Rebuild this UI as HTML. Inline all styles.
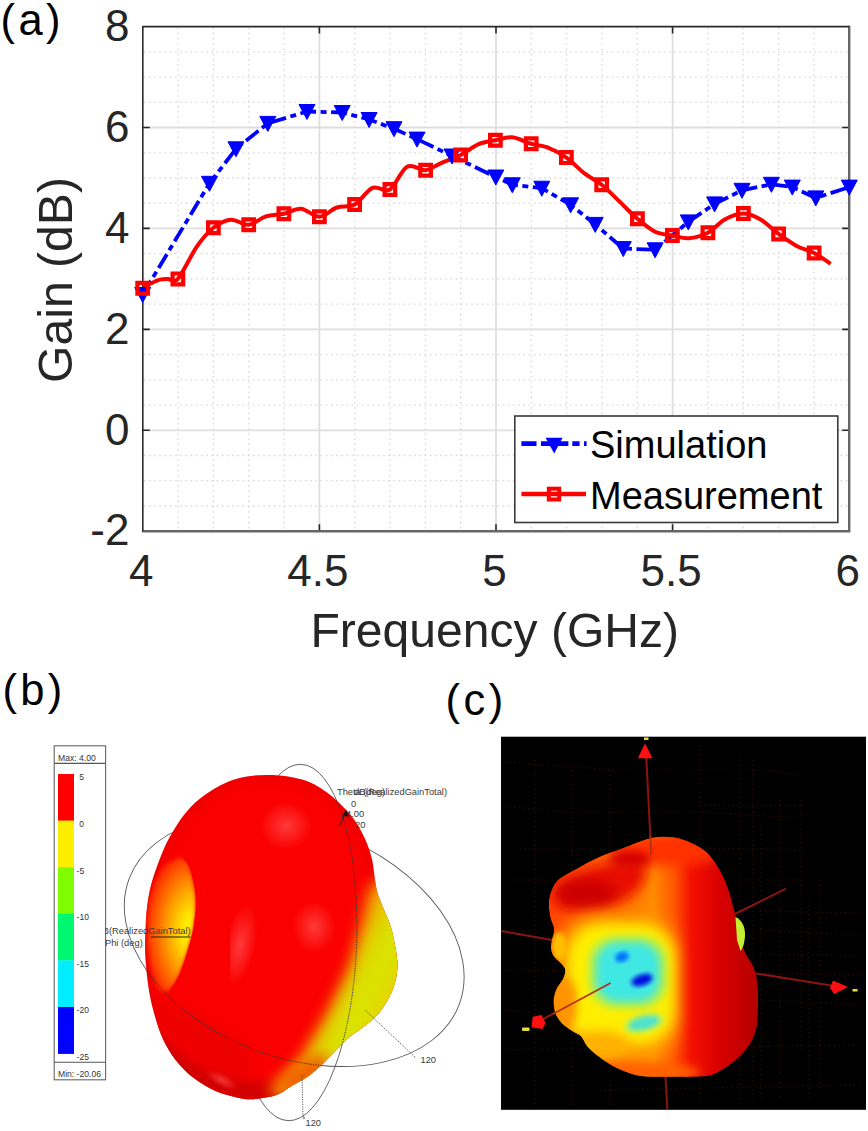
<!DOCTYPE html>
<html><head><meta charset="utf-8"><title>Gain figure</title>
<style>
html,body{margin:0;padding:0;background:#fff;}
body{width:868px;height:1131px;overflow:hidden;}
svg{display:block;font-family:"Liberation Sans",sans-serif;}
</style></head>
<body>
<svg width="868" height="1131" viewBox="0 0 868 1131">
<defs>

<linearGradient id="bLobe" gradientUnits="userSpaceOnUse" x1="315" y1="950" x2="400" y2="990">
 <stop offset="0" stop-color="#ff3800"/>
 <stop offset="0.3" stop-color="#f89000"/>
 <stop offset="0.5" stop-color="#e0d400"/>
 <stop offset="0.7" stop-color="#d8e600"/>
 <stop offset="1" stop-color="#e8d000"/>
</linearGradient>
<radialGradient id="bHole" gradientUnits="userSpaceOnUse" cx="194" cy="932" r="60" fx="194" fy="932" gradientTransform="translate(194 932) scale(0.95 1.6) translate(-194 -932)">
 <stop offset="0" stop-color="#ffff00"/>
 <stop offset="0.2" stop-color="#ffe800"/>
 <stop offset="0.45" stop-color="#ffa400"/>
 <stop offset="0.7" stop-color="#ff5800"/>
 <stop offset="0.88" stop-color="#ff2000"/>
 <stop offset="1" stop-color="#fa0000"/>
</radialGradient>
<radialGradient id="bHi" cx="0.5" cy="0.5" r="0.5">
 <stop offset="0" stop-color="#ff4848" stop-opacity="0.8"/>
 <stop offset="1" stop-color="#ff4848" stop-opacity="0"/>
</radialGradient>
<clipPath id="lclip"><rect x="105" y="900" width="200" height="60"/></clipPath>
<clipPath id="bclip"><path d="M269.0 775.0C280.0 775.1 292.8 777.0 302.0 779.6C311.2 782.2 317.5 786.3 324.0 790.5C330.5 794.7 335.9 799.8 341.0 804.7C346.1 809.6 350.3 814.1 354.4 820.0C358.5 825.9 362.5 833.2 365.4 839.8C368.3 846.4 370.4 852.6 372.0 859.5C373.6 866.4 374.3 875.7 375.2 881.3C376.1 886.9 376.2 888.6 377.5 893.0C378.8 897.4 381.0 902.6 383.0 907.6C385.0 912.6 387.7 917.6 389.5 923.0C391.3 928.4 392.7 932.8 394.0 940.0C395.3 947.2 397.7 957.8 397.5 966.0C397.3 974.2 395.7 981.7 393.0 989.0C390.3 996.3 385.6 1004.2 381.4 1010.0C377.2 1015.8 373.0 1019.1 367.6 1023.7C362.2 1028.3 354.4 1032.9 349.0 1037.5C343.6 1042.1 339.9 1046.7 335.3 1051.3C330.7 1055.9 326.1 1061.0 321.5 1065.2C316.9 1069.4 312.6 1073.2 307.6 1076.7C302.6 1080.2 296.7 1083.0 291.5 1086.0C286.3 1089.0 282.9 1092.8 276.4 1095.0C269.9 1097.2 258.9 1098.8 252.3 1099.2C245.7 1099.6 243.2 1098.9 237.0 1097.5C230.8 1096.1 222.3 1094.1 215.0 1090.8C207.7 1087.5 199.8 1082.7 193.2 1077.6C186.6 1072.5 180.8 1066.6 175.7 1060.0C170.6 1053.4 166.2 1046.0 162.5 1038.0C158.8 1030.0 156.2 1020.7 153.8 1012.0C151.4 1003.3 149.7 995.6 148.3 985.7C146.9 975.8 145.6 962.4 145.2 952.8C144.8 943.2 145.3 935.8 145.6 928.3C145.9 920.8 146.1 914.9 147.0 907.6C147.9 900.4 149.0 892.7 151.1 884.8C153.2 876.9 156.3 868.0 159.4 860.0C162.5 852.0 165.3 845.0 169.8 837.0C174.3 829.0 180.2 819.2 186.4 812.0C192.6 804.8 198.7 799.0 207.0 793.5C215.3 788.0 225.7 782.1 236.0 779.0C246.3 775.9 258.0 774.9 269.0 775.0Z"/></clipPath>
<filter id="blur2" x="-20%" y="-20%" width="140%" height="140%"><feGaussianBlur stdDeviation="2"/></filter>
<filter id="blur3" x="-30%" y="-30%" width="160%" height="160%"><feGaussianBlur stdDeviation="3"/></filter>
<filter id="blur4" x="-30%" y="-30%" width="160%" height="160%"><feGaussianBlur stdDeviation="4"/></filter>
<filter id="blur5" x="-30%" y="-30%" width="160%" height="160%"><feGaussianBlur stdDeviation="5.5"/></filter>
<filter id="blur7" x="-30%" y="-30%" width="160%" height="160%"><feGaussianBlur stdDeviation="7"/></filter>


<linearGradient id="cBase" gradientUnits="userSpaceOnUse" x1="548" y1="0" x2="758" y2="0">
 <stop offset="0" stop-color="#ff4400"/>
 <stop offset="0.35" stop-color="#ff6c00"/>
 <stop offset="0.5" stop-color="#ff8c00"/>
 <stop offset="0.6" stop-color="#ff5800"/>
 <stop offset="0.68" stop-color="#f41000"/>
 <stop offset="0.82" stop-color="#d80000"/>
 <stop offset="1" stop-color="#b40000"/>
</linearGradient>
<clipPath id="cclip"><path d="M649.8 838.4C658.2 836.5 666.0 836.5 672.9 837.3C679.8 838.1 685.6 840.4 691.3 843.0C697.0 845.6 702.3 848.2 707.0 852.7C711.7 857.2 716.2 863.7 719.7 869.7C723.2 875.7 725.9 882.4 728.2 888.8C730.5 895.2 732.2 903.2 733.5 907.9C734.8 912.6 734.9 912.5 736.0 917.0C737.1 921.5 738.5 929.1 740.0 935.0C741.5 940.9 742.9 947.1 745.2 952.5C747.5 957.9 751.7 962.0 753.7 967.3C755.8 972.6 756.8 977.2 757.5 984.3C758.2 991.4 758.2 1001.9 757.9 1009.7C757.6 1017.5 757.6 1024.6 755.8 1031.0C754.0 1037.4 751.2 1042.6 747.3 1047.9C743.4 1053.2 737.7 1058.5 732.4 1062.8C727.1 1067.0 720.8 1071.1 715.5 1073.4C710.2 1075.7 708.5 1076.0 700.6 1076.6C692.7 1077.2 677.4 1076.8 668.2 1076.8C659.0 1076.8 651.7 1077.1 645.2 1076.4C638.7 1075.8 634.5 1074.6 629.1 1072.9C623.7 1071.2 617.9 1068.7 612.9 1066.0C607.9 1063.3 603.2 1060.0 599.1 1056.8C595.0 1053.6 591.0 1050.4 588.0 1047.0C585.0 1043.6 583.5 1038.8 581.1 1036.2C578.7 1033.7 576.6 1033.7 573.6 1031.7C570.6 1029.7 565.9 1027.0 563.0 1024.2C560.1 1021.5 557.8 1018.2 556.3 1015.2C554.8 1012.2 554.4 1009.2 554.0 1006.2C553.6 1003.2 553.5 1000.2 554.0 997.2C554.5 994.2 555.5 991.2 557.0 988.2C558.5 985.2 561.6 982.2 563.0 979.2C564.4 976.2 565.5 972.6 565.3 970.1C565.1 967.6 563.5 966.4 561.6 964.1C559.7 961.9 555.8 959.1 554.0 956.6C552.2 954.1 551.4 951.9 551.0 949.1C550.6 946.4 551.3 943.4 551.8 940.1C552.3 936.9 554.2 933.4 554.0 929.6C553.8 925.9 551.2 921.9 550.3 917.6C549.4 913.3 548.7 908.3 548.8 904.0C548.9 899.7 549.5 896.0 551.0 892.0C552.5 888.0 553.8 883.8 558.0 880.0C562.2 876.2 569.2 872.9 576.1 869.0C583.0 865.1 591.4 860.3 599.1 856.9C606.8 853.5 613.8 851.6 622.2 848.5C630.7 845.4 641.3 840.3 649.8 838.4Z"/></clipPath>
<filter id="blur6" x="-50%" y="-50%" width="200%" height="200%"><feGaussianBlur stdDeviation="6"/></filter>
<filter id="blur8" x="-50%" y="-50%" width="200%" height="200%"><feGaussianBlur stdDeviation="8"/></filter>
<filter id="blur10" x="-50%" y="-50%" width="200%" height="200%"><feGaussianBlur stdDeviation="10"/></filter>

<clipPath id="axclip"><rect x="142.8" y="26.6" width="706.4000000000001" height="504.6"/></clipPath>
</defs>
<path d="M178.1 27.6V530.2M213.4 27.6V530.2M248.8 27.6V530.2M284.1 27.6V530.2M354.7 27.6V530.2M390.0 27.6V530.2M425.4 27.6V530.2M460.7 27.6V530.2M531.3 27.6V530.2M566.6 27.6V530.2M602.0 27.6V530.2M637.3 27.6V530.2M707.9 27.6V530.2M743.2 27.6V530.2M778.6 27.6V530.2M813.9 27.6V530.2M143.8 51.8H848.2M143.8 77.1H848.2M143.8 102.3H848.2M143.8 152.8H848.2M143.8 178.0H848.2M143.8 203.2H848.2M143.8 253.7H848.2M143.8 278.9H848.2M143.8 304.1H848.2M143.8 354.6H848.2M143.8 379.8H848.2M143.8 405.1H848.2M143.8 455.5H848.2M143.8 480.7H848.2M143.8 506.0H848.2" stroke="#d8d8d8" stroke-width="1.3" stroke-dasharray="1.6 3.6" fill="none"/>
<path d="M319.4 26.6V531.2M496.0 26.6V531.2M672.6 26.6V531.2M142.8 127.5H849.2M142.8 228.4H849.2M142.8 329.4H849.2M142.8 430.3H849.2" stroke="#dedede" stroke-width="1.8" fill="none"/>
<path d="M319.4 531.2v-7M319.4 26.6v7M496.0 531.2v-7M496.0 26.6v7M672.6 531.2v-7M672.6 26.6v7M142.8 127.5h7M849.2 127.5h-7M142.8 228.4h7M849.2 228.4h-7M142.8 329.4h7M849.2 329.4h-7M142.8 430.3h7M849.2 430.3h-7" stroke="#262626" stroke-width="1.6" fill="none"/>
<path d="M849.2 25.8V532.4M142.0 531.2H850.4" fill="none" stroke="#666" stroke-width="2.4"/>
<path d="M142.8 531.2V26.6H849.2" fill="none" stroke="#2a2a2a" stroke-width="1.6"/>
<g font-size="44" fill="#262626"><text x="129.4" y="41.2" text-anchor="end">8</text><text x="129.4" y="142.1" text-anchor="end">6</text><text x="129.4" y="243.0" text-anchor="end">4</text><text x="129.4" y="344.0" text-anchor="end">2</text><text x="129.4" y="444.9" text-anchor="end">0</text><text x="129.4" y="545.0" text-anchor="end">-2</text><text x="141.3" y="586.4" text-anchor="middle">4</text><text x="317.9" y="586.4" text-anchor="middle">4.5</text><text x="494.5" y="586.4" text-anchor="middle">5</text><text x="671.1" y="586.4" text-anchor="middle">5.5</text><text x="847.7" y="586.4" text-anchor="middle">6</text></g>
<text x="310.5" y="646.5" font-size="48" fill="#262626" textLength="368.5" lengthAdjust="spacingAndGlyphs">Frequency (GHz)</text>
<text transform="translate(71.5 383) rotate(-90)" font-size="49" fill="#262626" textLength="206" lengthAdjust="spacingAndGlyphs">Gain (dB)</text>
<g clip-path="url(#axclip)">
<path d="M142.7 294.5L209.5 183.3L236.0 148.8L267.8 123.4L307.0 111.5L342.2 112.5L369.1 119.5L394.0 128.7L417.0 139.1L452.0 156.0L495.8 177.0L512.3 184.8L541.8 188.2L570.6 204.8L595.2 224.4L623.3 248.6L655.1 249.8L688.3 221.9L714.6 203.9L742.0 190.3L771.4 184.3L792.3 187.1L815.8 197.9L849.3 187.1" stroke="#0000ff" stroke-width="3.8" fill="none" stroke-dasharray="16 4.5 6 4.5" stroke-linejoin="round"/>
<path d="M142.7 288.2C144.1 287.4 148.1 284.7 151.0 283.3C153.9 281.9 157.2 280.3 160.0 279.6C162.8 278.9 165.0 279.0 168.0 278.9C171.0 278.8 173.1 284.3 177.9 278.9C182.7 273.5 190.9 255.2 196.8 246.7C202.7 238.2 207.8 232.3 213.4 227.8C219.1 223.3 224.8 220.2 230.7 219.7C236.6 219.2 242.8 225.4 248.7 224.8C254.6 224.2 260.0 218.2 265.9 216.3C271.8 214.5 278.0 215.0 283.9 213.7C289.8 212.4 295.1 208.2 301.0 208.7C306.9 209.2 313.4 216.9 319.4 216.7C325.4 216.5 331.0 209.5 336.9 207.5C342.8 205.5 348.7 207.8 354.6 204.5C360.6 201.2 366.7 190.4 372.6 187.9C378.5 185.4 384.1 193.0 389.9 189.5C395.6 186.0 401.2 169.9 407.1 166.7C413.1 163.5 420.0 170.8 425.6 170.2C431.2 169.6 434.8 165.8 440.6 163.3C446.4 160.8 454.3 158.2 460.6 155.0C466.9 151.8 472.8 146.6 478.6 144.1C484.4 141.6 489.8 141.3 495.4 140.2C501.0 139.1 506.3 136.7 512.3 137.3C518.3 137.9 525.5 142.2 531.2 143.8C537.0 145.5 540.9 144.9 546.8 147.2C552.7 149.5 560.1 153.2 566.4 157.6C572.7 162.0 578.9 169.2 584.8 173.7C590.7 178.2 595.9 180.2 601.7 184.8C607.5 189.4 613.5 195.8 619.4 201.4C625.3 207.1 631.4 213.6 637.4 218.7C643.4 223.8 649.3 229.0 655.1 231.8C660.9 234.6 666.8 234.4 672.4 235.5C678.0 236.6 682.9 238.7 688.8 238.2C694.7 237.7 701.9 235.8 707.9 232.7C713.9 229.6 718.8 222.7 724.7 219.5C730.6 216.3 737.4 213.5 743.4 213.5C749.4 213.5 754.7 216.1 760.6 219.5C766.5 222.9 772.6 229.5 778.6 233.9C784.6 238.3 790.7 242.7 796.6 245.9C802.5 249.1 808.4 250.0 814.1 253.0C819.8 256.0 827.9 262.0 830.6 263.8" stroke="#ff0000" stroke-width="4" fill="none" stroke-linejoin="round"/>
</g>
<path d="M134.7 287.5H150.7L142.7 302.5ZM201.5 176.3H217.5L209.5 191.3ZM228.0 141.8H244.0L236.0 156.8ZM259.8 116.4H275.8L267.8 131.4ZM299.0 104.5H315.0L307.0 119.5ZM334.2 105.5H350.2L342.2 120.5ZM361.1 112.5H377.1L369.1 127.5ZM386.0 121.7H402.0L394.0 136.7ZM409.0 132.1H425.0L417.0 147.1ZM444.0 149.0H460.0L452.0 164.0ZM487.8 170.0H503.8L495.8 185.0ZM504.3 177.8H520.3L512.3 192.8ZM533.8 181.2H549.8L541.8 196.2ZM562.6 197.8H578.6L570.6 212.8ZM587.2 217.4H603.2L595.2 232.4ZM615.3 241.6H631.3L623.3 256.6ZM647.1 242.8H663.1L655.1 257.8ZM680.3 214.9H696.3L688.3 229.9ZM706.6 196.9H722.6L714.6 211.9ZM734.0 183.3H750.0L742.0 198.3ZM763.4 177.3H779.4L771.4 192.3ZM784.3 180.1H800.3L792.3 195.1ZM807.8 190.9H823.8L815.8 205.9ZM841.3 180.1H857.3L849.3 195.1Z" fill="#0000ff" stroke="#0000ff" stroke-width="1" stroke-linejoin="round"/>
<path d="M137.4 282.8h10.6v10.8h-10.6ZM172.6 273.5h10.6v10.8h-10.6ZM208.1 222.4h10.6v10.8h-10.6ZM243.4 219.4h10.6v10.8h-10.6ZM278.6 208.3h10.6v10.8h-10.6ZM314.1 211.3h10.6v10.8h-10.6ZM349.3 199.1h10.6v10.8h-10.6ZM384.6 184.1h10.6v10.8h-10.6ZM420.3 164.8h10.6v10.8h-10.6ZM455.3 149.6h10.6v10.8h-10.6ZM490.1 134.8h10.6v10.8h-10.6ZM525.9 138.4h10.6v10.8h-10.6ZM561.1 152.2h10.6v10.8h-10.6ZM596.4 179.4h10.6v10.8h-10.6ZM632.1 213.3h10.6v10.8h-10.6ZM667.1 230.1h10.6v10.8h-10.6ZM702.6 227.3h10.6v10.8h-10.6ZM738.1 208.1h10.6v10.8h-10.6ZM773.3 228.5h10.6v10.8h-10.6ZM808.8 247.6h10.6v10.8h-10.6Z" fill="none" stroke="#ff0000" stroke-width="4.2"/>
<rect x="514.8" y="416" width="323" height="106.5" fill="#fff" stroke="#3a3a3a" stroke-width="1.6"/>
<path d="M521.4 443.6H536.5M541 443.6H568.4M572.3 443.6H579.6M584 443.6H586.6" stroke="#0000ff" stroke-width="4.6" fill="none"/>
<path d="M545.6 437.8H562.6L554.2 453.6Z" fill="#0000ff"/>
<path d="M521.4 494H586" stroke="#ff0000" stroke-width="4.4" fill="none"/>
<rect x="548.8" y="488.7" width="10.4" height="10.8" fill="none" stroke="#ff0000" stroke-width="4"/>
<g font-size="38" fill="#000"><text x="590" y="458.2">Simulation</text><text x="590" y="508.7">Measurement</text></g>
<g font-size="43.5" fill="#000" letter-spacing="3.4">
<text x="0.6" y="34.8">(a)</text>
<text x="2.4" y="704.6">(b)</text>
<text x="445.6" y="715.3">(c)</text>
</g>
<rect x="54.2" y="745.8" width="51.4" height="334" fill="#fff" stroke="#666" stroke-width="1.1"/>
<path d="M54.2 763.4H105.6M54.2 1062.3H105.6" stroke="#555" stroke-width="1.1"/>
<rect x="58" y="774.0" width="16" height="46.9" fill="#ff0000"/>
<rect x="58" y="820.6" width="16" height="46.9" fill="#ffee00"/>
<rect x="58" y="867.2" width="16" height="46.9" fill="#80fc00"/>
<rect x="58" y="913.8" width="16" height="46.9" fill="#00f870"/>
<rect x="58" y="960.4" width="16" height="46.9" fill="#00eeff"/>
<rect x="58" y="1007.0" width="16" height="46.9" fill="#0000ff"/>
<text x="79.2" y="780.3" font-size="8.5" fill="#333">5</text>
<text x="79.2" y="826.9" font-size="8.5" fill="#333">0</text>
<text x="76.6" y="873.5" font-size="8.5" fill="#333">-5</text>
<text x="76.6" y="920.1" font-size="8.5" fill="#333">-10</text>
<text x="76.6" y="966.7" font-size="8.5" fill="#333">-15</text>
<text x="76.6" y="1013.3" font-size="8.5" fill="#333">-20</text>
<text x="76.6" y="1059.9" font-size="8.5" fill="#333">-25</text>
<text x="58" y="760.5" font-size="8.6" fill="#333">Max: 4.00</text>
<text x="58" y="1076.7" font-size="8.6" fill="#333">Min: -20.06</text>
<g fill="none" stroke="#555" stroke-width="0.9">
<ellipse cx="294.2" cy="941.5" rx="176.6" ry="115.4" transform="rotate(21.1 294.2 941.5)"/>
<ellipse cx="294.6" cy="942.5" rx="62.0" ry="178.3" transform="rotate(2.1 294.6 942.5)"/>
</g>
<g>
<path d="M269.0 775.0C280.0 775.1 292.8 777.0 302.0 779.6C311.2 782.2 317.5 786.3 324.0 790.5C330.5 794.7 335.9 799.8 341.0 804.7C346.1 809.6 350.3 814.1 354.4 820.0C358.5 825.9 362.5 833.2 365.4 839.8C368.3 846.4 370.4 852.6 372.0 859.5C373.6 866.4 374.3 875.7 375.2 881.3C376.1 886.9 376.2 888.6 377.5 893.0C378.8 897.4 381.0 902.6 383.0 907.6C385.0 912.6 387.7 917.6 389.5 923.0C391.3 928.4 392.7 932.8 394.0 940.0C395.3 947.2 397.7 957.8 397.5 966.0C397.3 974.2 395.7 981.7 393.0 989.0C390.3 996.3 385.6 1004.2 381.4 1010.0C377.2 1015.8 373.0 1019.1 367.6 1023.7C362.2 1028.3 354.4 1032.9 349.0 1037.5C343.6 1042.1 339.9 1046.7 335.3 1051.3C330.7 1055.9 326.1 1061.0 321.5 1065.2C316.9 1069.4 312.6 1073.2 307.6 1076.7C302.6 1080.2 296.7 1083.0 291.5 1086.0C286.3 1089.0 282.9 1092.8 276.4 1095.0C269.9 1097.2 258.9 1098.8 252.3 1099.2C245.7 1099.6 243.2 1098.9 237.0 1097.5C230.8 1096.1 222.3 1094.1 215.0 1090.8C207.7 1087.5 199.8 1082.7 193.2 1077.6C186.6 1072.5 180.8 1066.6 175.7 1060.0C170.6 1053.4 166.2 1046.0 162.5 1038.0C158.8 1030.0 156.2 1020.7 153.8 1012.0C151.4 1003.3 149.7 995.6 148.3 985.7C146.9 975.8 145.6 962.4 145.2 952.8C144.8 943.2 145.3 935.8 145.6 928.3C145.9 920.8 146.1 914.9 147.0 907.6C147.9 900.4 149.0 892.7 151.1 884.8C153.2 876.9 156.3 868.0 159.4 860.0C162.5 852.0 165.3 845.0 169.8 837.0C174.3 829.0 180.2 819.2 186.4 812.0C192.6 804.8 198.7 799.0 207.0 793.5C215.3 788.0 225.7 782.1 236.0 779.0C246.3 775.9 258.0 774.9 269.0 775.0Z" fill="#fa0000"/>
<g clip-path="url(#bclip)">
<path d="M269.0 775.0C280.0 775.1 292.8 777.0 302.0 779.6C311.2 782.2 317.5 786.3 324.0 790.5C330.5 794.7 335.9 799.8 341.0 804.7C346.1 809.6 350.3 814.1 354.4 820.0C358.5 825.9 362.5 833.2 365.4 839.8C368.3 846.4 370.4 852.6 372.0 859.5C373.6 866.4 374.3 875.7 375.2 881.3C376.1 886.9 376.2 888.6 377.5 893.0C378.8 897.4 381.0 902.6 383.0 907.6C385.0 912.6 387.7 917.6 389.5 923.0C391.3 928.4 392.7 932.8 394.0 940.0C395.3 947.2 397.7 957.8 397.5 966.0C397.3 974.2 395.7 981.7 393.0 989.0C390.3 996.3 385.6 1004.2 381.4 1010.0C377.2 1015.8 373.0 1019.1 367.6 1023.7C362.2 1028.3 354.4 1032.9 349.0 1037.5C343.6 1042.1 339.9 1046.7 335.3 1051.3C330.7 1055.9 326.1 1061.0 321.5 1065.2C316.9 1069.4 312.6 1073.2 307.6 1076.7C302.6 1080.2 296.7 1083.0 291.5 1086.0C286.3 1089.0 282.9 1092.8 276.4 1095.0C269.9 1097.2 258.9 1098.8 252.3 1099.2C245.7 1099.6 243.2 1098.9 237.0 1097.5C230.8 1096.1 222.3 1094.1 215.0 1090.8C207.7 1087.5 199.8 1082.7 193.2 1077.6C186.6 1072.5 180.8 1066.6 175.7 1060.0C170.6 1053.4 166.2 1046.0 162.5 1038.0C158.8 1030.0 156.2 1020.7 153.8 1012.0C151.4 1003.3 149.7 995.6 148.3 985.7C146.9 975.8 145.6 962.4 145.2 952.8C144.8 943.2 145.3 935.8 145.6 928.3C145.9 920.8 146.1 914.9 147.0 907.6C147.9 900.4 149.0 892.7 151.1 884.8C153.2 876.9 156.3 868.0 159.4 860.0C162.5 852.0 165.3 845.0 169.8 837.0C174.3 829.0 180.2 819.2 186.4 812.0C192.6 804.8 198.7 799.0 207.0 793.5C215.3 788.0 225.7 782.1 236.0 779.0C246.3 775.9 258.0 774.9 269.0 775.0Z" fill="none" stroke="#e00000" stroke-width="10" filter="url(#blur5)" opacity="0.5"/>
<path d="M150 1040C190 1085 240 1100 300 1090" fill="none" stroke="#d00000" stroke-width="22" filter="url(#blur5)"/>
<ellipse cx="286" cy="826" rx="26" ry="24" fill="url(#bHi)"/>
<ellipse cx="314" cy="927" rx="22" ry="26" fill="url(#bHi)"/>
<ellipse cx="240" cy="945" rx="16" ry="42" fill="url(#bHi)" transform="rotate(12 240 945)"/>
<ellipse cx="222" cy="1080" rx="18" ry="7" fill="url(#bHi)" transform="rotate(28 222 1080)"/>
<path d="M372.0 884.0C366.2 887.6 364.3 911.8 362.0 920.0C359.7 928.2 352.5 956.8 349.0 966.0C345.5 975.2 331.9 1002.8 327.0 1012.0C322.1 1021.2 305.5 1049.7 300.0 1058.0C294.5 1066.3 260.0 1090.8 272.0 1095.0C284.0 1099.2 405.2 1121.1 420.0 1100.0C434.8 1078.9 424.8 905.6 420.0 884.0C415.2 862.4 377.8 880.4 372.0 884.0Z" fill="url(#bLobe)" filter="url(#blur7)"/>
<ellipse cx="305" cy="1075" rx="30" ry="13" fill="#f06000" filter="url(#blur7)" transform="rotate(-35 305 1075)"/>
<path d="M150 1000C170 1040 200 1070 240 1080C260 1070 250 1040 220 1030C190 1020 160 1000 150 1000Z" fill="#e00000" opacity="0.5" filter="url(#blur7)"/>
<path d="M183.5 859.0C186.2 860.5 188.0 862.8 190.0 869.0C192.0 875.2 194.9 887.2 195.5 896.5C196.1 905.8 195.2 915.6 193.8 925.0C192.4 934.4 189.3 944.7 186.8 953.0C184.3 961.3 181.7 969.0 179.0 975.0C176.3 981.0 174.0 986.8 170.5 989.0C167.0 991.2 161.8 994.5 158.0 988.0C154.2 981.5 149.5 963.8 148.0 950.0C146.5 936.2 147.0 918.0 149.0 905.0C151.0 892.0 155.8 879.5 160.0 872.0C164.2 864.5 170.1 862.2 174.0 860.0C177.9 857.8 180.8 857.5 183.5 859.0Z" fill="url(#bHole)" filter="url(#blur2)"/>
<path d="M183.5 859.0C184.6 860.7 188.0 862.8 190.0 869.0C192.0 875.2 194.9 887.2 195.5 896.5C196.1 905.8 195.2 915.6 193.8 925.0C192.4 934.4 189.3 944.7 186.8 953.0C184.3 961.3 181.7 969.0 179.0 975.0C176.3 981.0 171.9 986.7 170.5 989.0L168 1000L230 1000L230 850L178 850Z" fill="#fa0000"/>
</g></g>
<g fill="none" stroke="#333" stroke-width="1" stroke-dasharray="1.2 1.2" clip-path="url(#bclip)">
<path d="M459.0 1005.1L457.2 1009.3L455.2 1013.3L452.9 1017.3L450.4 1021.1L447.7 1024.9L444.7 1028.5L441.5 1031.9L438.1 1035.2L434.4 1038.4L430.5 1041.4L426.4 1044.3L422.1 1047.0L417.7 1049.6L413.0 1052.0L408.1 1054.2L403.1 1056.2L397.9 1058.1L392.5 1059.8L387.0 1061.3L381.3 1062.6L375.5 1063.7L369.6 1064.7L363.6 1065.4L357.4 1066.0L351.2 1066.3L344.9 1066.5L338.5 1066.5L332.0 1066.3L325.5 1065.9L318.9 1065.3L312.3 1064.5L305.6 1063.5L298.9 1062.4L292.3 1061.0L285.6 1059.5L278.9 1057.8L272.3 1055.9L265.7 1053.8L259.2 1051.6L252.7 1049.2L246.2 1046.6L239.9 1043.8L233.6 1040.9L227.4 1037.9L221.3 1034.7L215.3 1031.3L209.5 1027.9L203.8 1024.2L198.2 1020.5L192.8 1016.6L187.5 1012.7L182.4 1008.6L177.4 1004.4L172.7 1000.1L168.1 995.7L163.7 991.2L159.6 986.7L155.6 982.1L151.9 977.4L148.3 972.7L145.0 967.9L141.9 963.1L139.1 958.2L136.5 953.3L134.1 948.5L132.0 943.5L130.1 938.6L128.5 933.7L127.2 928.8L126.1 924.0L125.2 919.1L124.7 914.3L124.3 909.5L124.3 904.8L124.5 900.2L125.0 895.5L125.7 891.0L126.7 886.6L127.9 882.2L129.4 877.9"/>
<path d="M301.1 764.3L303.6 764.5L306.0 765.0L308.4 765.8L310.7 766.9L313.1 768.2L315.4 769.8L317.7 771.6L320.0 773.7L322.2 776.1L324.3 778.8L326.5 781.6L328.5 784.8L330.6 788.1L332.5 791.8L334.5 795.6L336.3 799.7L338.1 804.0L339.8 808.5L341.5 813.2L343.0 818.1L344.5 823.2L346.0 828.5L347.3 834.0L348.6 839.6L349.7 845.4L350.8 851.3L351.9 857.4L352.8 863.6L353.6 870.0L354.3 876.4L355.0 883.0L355.5 889.6L356.0 896.3L356.4 903.1L356.6 910.0L356.8 916.9L356.9 923.8L356.9 930.8L356.8 937.8L356.6 944.8L356.3 951.8L355.9 958.7L355.4 965.7L354.8 972.6L354.1 979.5L353.3 986.3L352.5 993.1L351.5 999.7L350.5 1006.3L349.3 1012.8L348.1 1019.2L346.8 1025.4L345.5 1031.5L344.0 1037.5L342.5 1043.4L340.9 1049.1L339.2 1054.6L337.5 1059.9L335.7 1065.1L333.8 1070.1L331.9 1074.9L329.9 1079.5L327.8 1083.8L325.7 1088.0L323.6 1091.9L321.4 1095.6L319.2 1099.1L316.9 1102.3L314.6 1105.3L312.3 1108.0L309.9 1110.5L307.5 1112.7L305.1 1114.6L302.7 1116.3L300.3 1117.7L297.8 1118.8L295.4 1119.7L292.9 1120.3L290.5 1120.6L288.1 1120.7"/>
</g>
<path d="M365 1010L416 1058M302 1075L303 1118" fill="none" stroke="#444" stroke-width="0.9" stroke-dasharray="1.2 1.2"/>
<path d="M303 1118h2" stroke="#333" stroke-width="1"/>
<g font-size="9.3" fill="#3a3a3a">
<text x="337" y="794.5">Theta (deg)</text>
<text x="354" y="794.5">dB(RealizedGainTotal)</text>
<text x="351" y="807">0</text>
<text x="346" y="816.5">4.00</text>
<text x="355" y="828">20</text>
<text x="420.5" y="1062.5">120</text>
<text x="305.5" y="1126">120</text>
<text x="190.6" y="934" text-anchor="end" clip-path="url(#lclip)">dB(RealizedGainTotal)</text>
<text x="105" y="945.5">Phi (deg)</text>
</g>
<path d="M151 937H190.5" stroke="#222" stroke-width="1.2"/>
<path d="M345.8 809.5L349 816.5L342.6 816Z" fill="#111"/><path d="M344.5 815L339.5 826" stroke="#222" stroke-width="1" fill="none"/>
<rect x="501" y="736.7" width="365" height="373.1" fill="#000"/>
<g fill="none" stroke="#4a120c" stroke-width="1.2" stroke-dasharray="1.3 3.4" opacity="0.7">
<path d="M505 762L615 770L760 770L800 775M505 806L560 812L700 812L800 818M505 880L800 880M505 970L860 975M505 1050L860 1045M535 760V1105M572 770V1105M610 770V1105M700 745V1105M740 750V1105M780 800V1100M820 880V1090M760 930L860 935M760 1000L860 1005M753 760V1100M761 820V1100M801 800V1050M809 900V1100M700 805L800 806M700 848L800 850M760 911L860 913M760 954L860 956M505 930L540 932M505 1010L530 1012M600 1090L860 1085M520 849L700 850"/>
</g>
<g stroke="#8a1410" stroke-width="2" fill="none">
<path d="M646.3 758L650.5 840M501 931L552 940M786 888.6L735 914M756 973.4L834 986M665.3 1075L667.4 1110M541.5 1020L611 982"/>
</g>
<g fill="#ff1010">
<path d="M645 743.5L652.6 758.3H637.8Z"/>
<path d="M848 987L833 980.5L830 988L834 994Z"/>
<path d="M532.8 1016.8L541.5 1015L545.6 1023.2L542.4 1029.1L531.5 1027.3Z"/>
</g>
<g fill="#e0e040"><rect x="644" y="737.5" width="4.5" height="2.5"/><rect x="852.5" y="989" width="5" height="2.5"/><rect x="522" y="1027.5" width="7.5" height="3.4" rx="1"/></g>
<g clip-path="url(#cclip)">
<path d="M649.8 838.4C658.2 836.5 666.0 836.5 672.9 837.3C679.8 838.1 685.6 840.4 691.3 843.0C697.0 845.6 702.3 848.2 707.0 852.7C711.7 857.2 716.2 863.7 719.7 869.7C723.2 875.7 725.9 882.4 728.2 888.8C730.5 895.2 732.2 903.2 733.5 907.9C734.8 912.6 734.9 912.5 736.0 917.0C737.1 921.5 738.5 929.1 740.0 935.0C741.5 940.9 742.9 947.1 745.2 952.5C747.5 957.9 751.7 962.0 753.7 967.3C755.8 972.6 756.8 977.2 757.5 984.3C758.2 991.4 758.2 1001.9 757.9 1009.7C757.6 1017.5 757.6 1024.6 755.8 1031.0C754.0 1037.4 751.2 1042.6 747.3 1047.9C743.4 1053.2 737.7 1058.5 732.4 1062.8C727.1 1067.0 720.8 1071.1 715.5 1073.4C710.2 1075.7 708.5 1076.0 700.6 1076.6C692.7 1077.2 677.4 1076.8 668.2 1076.8C659.0 1076.8 651.7 1077.1 645.2 1076.4C638.7 1075.8 634.5 1074.6 629.1 1072.9C623.7 1071.2 617.9 1068.7 612.9 1066.0C607.9 1063.3 603.2 1060.0 599.1 1056.8C595.0 1053.6 591.0 1050.4 588.0 1047.0C585.0 1043.6 583.5 1038.8 581.1 1036.2C578.7 1033.7 576.6 1033.7 573.6 1031.7C570.6 1029.7 565.9 1027.0 563.0 1024.2C560.1 1021.5 557.8 1018.2 556.3 1015.2C554.8 1012.2 554.4 1009.2 554.0 1006.2C553.6 1003.2 553.5 1000.2 554.0 997.2C554.5 994.2 555.5 991.2 557.0 988.2C558.5 985.2 561.6 982.2 563.0 979.2C564.4 976.2 565.5 972.6 565.3 970.1C565.1 967.6 563.5 966.4 561.6 964.1C559.7 961.9 555.8 959.1 554.0 956.6C552.2 954.1 551.4 951.9 551.0 949.1C550.6 946.4 551.3 943.4 551.8 940.1C552.3 936.9 554.2 933.4 554.0 929.6C553.8 925.9 551.2 921.9 550.3 917.6C549.4 913.3 548.7 908.3 548.8 904.0C548.9 899.7 549.5 896.0 551.0 892.0C552.5 888.0 553.8 883.8 558.0 880.0C562.2 876.2 569.2 872.9 576.1 869.0C583.0 865.1 591.4 860.3 599.1 856.9C606.8 853.5 613.8 851.6 622.2 848.5C630.7 845.4 641.3 840.3 649.8 838.4Z" fill="url(#cBase)"/>
<ellipse cx="668" cy="850" rx="58" ry="16" fill="#ff3000" filter="url(#blur6)"/>
<path d="M556 885C575 872 610 858 640 860C650 866 648 880 636 892C620 906 590 912 566 910C552 905 548 895 556 885Z" fill="#e81000" filter="url(#blur6)"/>
<ellipse cx="586" cy="893" rx="30" ry="14" fill="#cc0000" filter="url(#blur6)"/>
<ellipse cx="630" cy="859" rx="20" ry="8" fill="#d40000" filter="url(#blur4)"/>
<rect x="556" y="915" width="122" height="145" rx="40" fill="#ffa000" filter="url(#blur8)"/>
<rect x="568" y="924" width="106" height="120" rx="34" fill="#ffee00" filter="url(#blur6)"/>
<ellipse cx="559" cy="946" rx="7" ry="14" fill="#ffc000" filter="url(#blur2)"/>
<ellipse cx="564" cy="1003" rx="13" ry="26" fill="#ff9400" filter="url(#blur4)"/>
<ellipse cx="600" cy="1045" rx="30" ry="14" fill="#ffb000" filter="url(#blur6)"/>
<rect x="589" y="936" width="78" height="72" rx="26" fill="#b0f050" filter="url(#blur4)"/>
<rect x="596" y="942" width="64" height="60" rx="22" fill="#40e8e4" filter="url(#blur4)"/>
<ellipse cx="644" cy="1023" rx="20" ry="9" fill="#a8f070" filter="url(#blur3)" transform="rotate(-14 644 1023)"/>
<ellipse cx="644" cy="1023" rx="15" ry="6" fill="#50e2cc" filter="url(#blur2)" transform="rotate(-14 644 1023)"/>
<ellipse cx="622" cy="957" rx="7" ry="5" fill="#0070ff" filter="url(#blur2)" transform="rotate(-20 622 957)"/>
<ellipse cx="642" cy="980" rx="11" ry="5.5" fill="#0010e0" filter="url(#blur2)" transform="rotate(-18 642 980)"/>
<ellipse cx="640" cy="1072" rx="60" ry="9" fill="#ff6000" filter="url(#blur4)"/>
</g>
<path d="M735.5 917C742 920 745 927 745 934C745 942 743 948 740.5 951L737 940Z" fill="#c4ec30"/>
<path d="M650.5 836L651 855M610.6 983L553 1014" stroke="#b03010" stroke-width="1.6" fill="none"/>
</svg>
</body></html>
